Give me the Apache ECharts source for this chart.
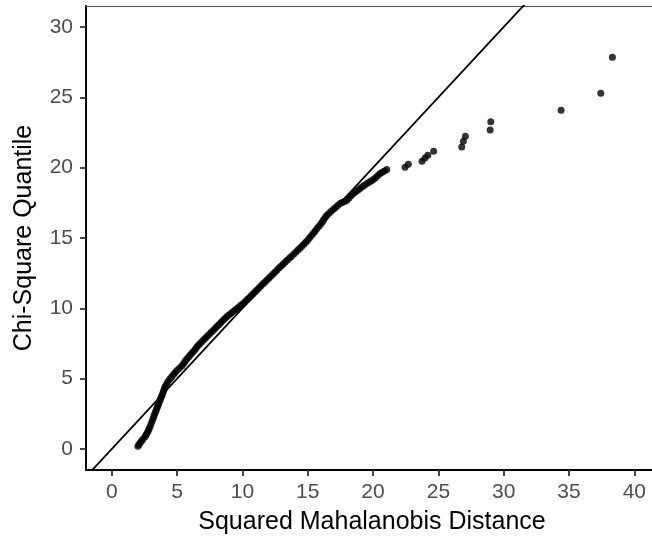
<!DOCTYPE html>
<html>
<head>
<meta charset="utf-8">
<script src="https://cdn.jsdelivr.net/npm/echarts@6/dist/echarts.min.js"></script>
<style>
html,body{margin:0;padding:0;background:#fff;}
#chart{width:652px;height:539px;}
</style>
</head>
<body>
<div id="chart"></div>
<script>
// Squared Mahalanobis distances (sorted)
const mahalanobisD2 = [
2.00,2.09,2.18,2.28,2.38,2.55,2.62,2.70,2.78,2.85,2.93,3.01,3.10,3.17,3.24,3.31,3.37,3.44,3.50,3.57,
3.63,3.70,3.77,3.83,3.90,3.96,4.02,4.08,4.19,4.30,4.45,4.59,4.73,4.86,5.00,5.18,5.36,5.49,5.61,5.74,
5.87,5.99,6.12,6.25,6.38,6.50,6.63,6.76,6.91,7.05,7.20,7.34,7.49,7.63,7.78,7.93,8.07,8.22,8.36,8.51,
8.65,8.80,8.96,9.12,9.28,9.44,9.59,9.75,9.91,10.07,10.22,10.37,10.52,10.67,10.82,10.97,11.11,11.26,11.41,11.56,
11.71,11.86,12.02,12.17,12.33,12.48,12.64,12.79,12.95,13.11,13.28,13.44,13.61,13.77,13.94,14.10,14.25,14.40,14.55,14.70,
14.85,15.00,15.14,15.29,15.43,15.57,15.71,15.86,16.00,16.12,16.23,16.35,16.46,16.63,16.80,16.97,17.13,17.30,17.47,17.64,
17.82,17.99,18.16,18.32,18.49,18.66,18.83,19.00,19.17,19.35,19.52,19.69,19.85,20.02,20.19,20.37,20.54,20.71,20.88,21.05,
22.45,22.70,23.75,23.98,24.19,24.64,26.79,26.91,27.07,28.96,29.01,34.39,37.43,38.32
];
// Matching chi-square quantiles
const chiSquareQuantile = [
0.20,0.33,0.45,0.58,0.70,0.87,1.00,1.12,1.27,1.43,1.58,1.79,2.00,2.18,2.36,2.54,2.69,2.85,3.00,3.16,
3.32,3.48,3.64,3.79,3.95,4.11,4.26,4.42,4.61,4.80,4.97,5.13,5.29,5.44,5.60,5.75,5.90,6.07,6.23,6.40,
6.53,6.67,6.80,6.94,7.08,7.23,7.37,7.51,7.64,7.78,7.91,8.05,8.18,8.32,8.45,8.59,8.72,8.86,8.99,9.13,
9.26,9.40,9.52,9.64,9.76,9.88,9.99,10.11,10.23,10.35,10.49,10.63,10.76,10.90,11.04,11.18,11.31,11.45,11.59,11.73,
11.86,12.00,12.14,12.29,12.43,12.57,12.71,12.86,13.00,13.14,13.29,13.43,13.57,13.71,13.86,14.00,14.14,14.28,14.42,14.56,
14.70,14.84,15.01,15.17,15.34,15.50,15.67,15.83,16.00,16.16,16.31,16.47,16.62,16.76,16.90,17.04,17.17,17.31,17.45,17.53,
17.60,17.68,17.84,18.00,18.16,18.28,18.40,18.52,18.64,18.75,18.87,18.96,19.06,19.15,19.29,19.44,19.58,19.67,19.77,19.86,
20.03,20.24,20.45,20.69,20.88,21.16,21.47,21.87,22.23,22.68,23.27,24.08,25.28,27.84
];
// Reference line y = intercept + slope * x
const ablineIntercept = 0;
const ablineSlope = 1;
// Axis ranges and ticks
const xRange = [-1.97, 41.35];
const yRange = [-1.49, 31.49];
const xTicks = [0, 5, 10, 15, 20, 25, 30, 35, 40];
const yTicks = [0, 5, 10, 15, 20, 25, 30];
const xTitle = 'Squared Mahalanobis Distance';
const yTitle = 'Chi-Square Quantile';

const points = mahalanobisD2.map((d, i) => [d, chiSquareQuantile[i]]);
const lineData = xRange.map(x => [x, ablineIntercept + ablineSlope * x]);

const FONT = '"Liberation Sans", Arial, Helvetica, sans-serif';
const chart = echarts.init(document.getElementById('chart'), null, {renderer: 'canvas'});
chart.setOption({
  backgroundColor: '#ffffff',
  animation: false,
  grid: {left: 86, right: 0, top: 6, bottom: 69, containLabel: false, outerBoundsMode: 'none'},
  xAxis: [{
    type: 'value', min: xRange[0], max: xRange[1],
    name: xTitle, nameLocation: 'middle', nameGap: 40,
    nameTextStyle: {fontFamily: FONT, fontSize: 25, color: '#000', padding: [0, 0, 0, 6]},
    axisLine: {show: true, onZero: false, lineStyle: {color: '#000', width: 2}},
    axisTick: {show: true, inside: false, length: 6, customValues: xTicks, lineStyle: {color: '#333', width: 1.8}},
    axisLabel: {show: true, margin: 12, customValues: xTicks, fontFamily: FONT, fontSize: 21, color: '#4d4d4d'},
    splitLine: {show: false}
  }, {
    type: 'value', position: 'top', min: xRange[0], max: xRange[1],
    axisLine: {show: true, onZero: false, lineStyle: {color: '#555', width: 1}},
    axisTick: {show: false}, axisLabel: {show: false}, splitLine: {show: false}
  }],
  yAxis: {
    type: 'value', min: yRange[0], max: yRange[1],
    name: yTitle, nameLocation: 'middle', nameGap: 49, nameRotate: 90,
    nameTextStyle: {fontFamily: FONT, fontSize: 25, color: '#000'},
    axisLine: {show: true, onZero: false, lineStyle: {color: '#000', width: 2}},
    axisTick: {show: true, inside: false, length: 6, customValues: yTicks, lineStyle: {color: '#333', width: 1.8}},
    axisLabel: {show: true, margin: 13, customValues: yTicks, fontFamily: FONT, fontSize: 21, color: '#4d4d4d'},
    splitLine: {show: false}
  },
  series: [{
    type: 'scatter', data: points, symbol: 'circle', symbolSize: 7,
    itemStyle: {color: '#000'}, silent: true, z: 2
  }, {
    type: 'line', data: lineData, showSymbol: false, clip: true,
    lineStyle: {color: '#000', width: 1.8}, silent: true, z: 3
  }]
});
</script>
</body>
</html>
